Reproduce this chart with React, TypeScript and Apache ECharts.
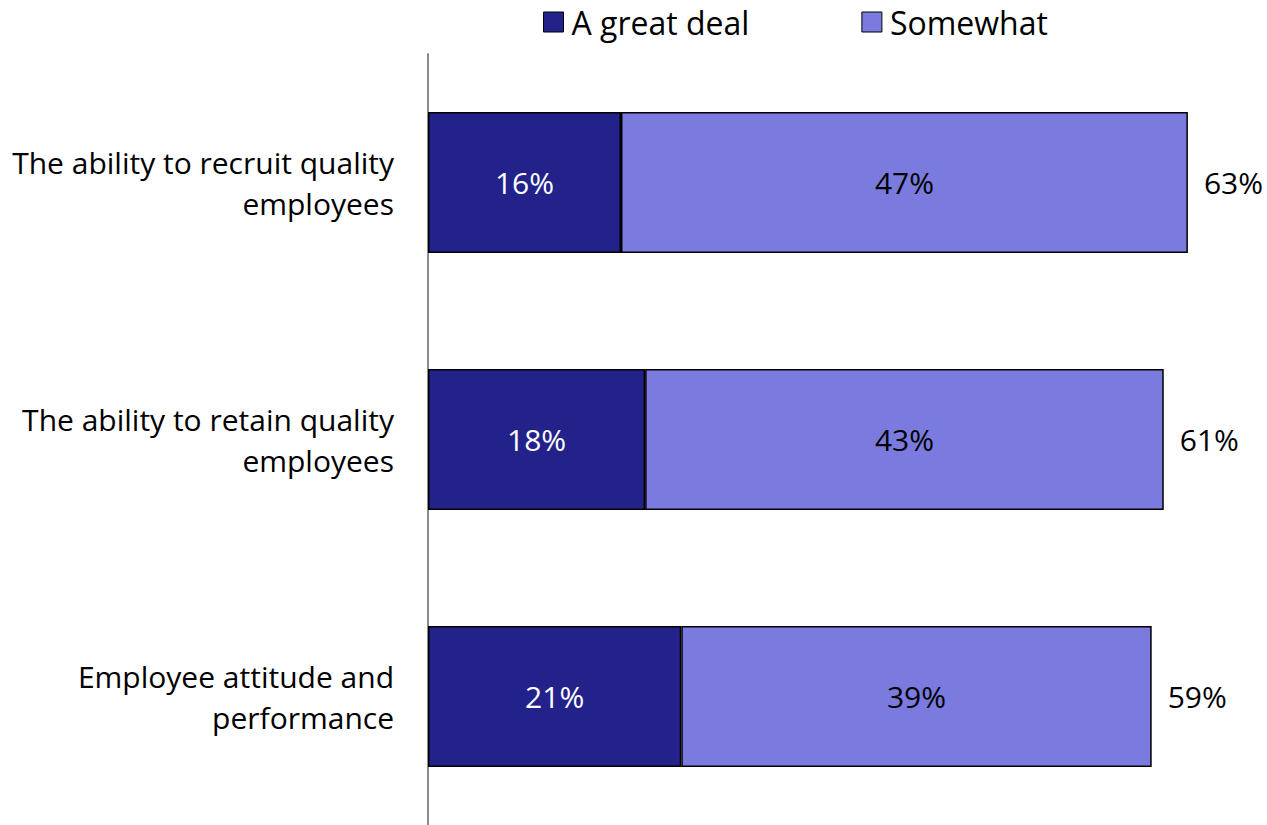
import React, { useEffect, useRef } from "react";
import * as echarts from "echarts";

const categories = [
  "The ability to recruit quality\nemployees",
  "The ability to retain quality\nemployees",
  "Employee attitude and\nperformance",
];
const greatDeal = [16, 18, 21];
const somewhat = [47, 43, 39];
const totals = [63, 61, 59];

const FONT = "Open Sans";

export default function App() {
  const ref = useRef<HTMLDivElement>(null);
  useEffect(() => {
    if (!ref.current) return;
    const chart = echarts.init(ref.current, undefined, { renderer: "svg" });
    chart.setOption({
      animation: false,
      backgroundColor: "#ffffff",
      textStyle: { fontFamily: FONT },
      legend: {
        top: 1,
        left: 538,
        itemWidth: 20,
        itemHeight: 20,
        itemGap: 112,
        icon: "rect",
        textStyle: { fontSize: 32, lineHeight: 32, color: "#000", fontFamily: FONT, padding: [0, 0, 0, 3] },
        data: [
          { name: "A great deal", itemStyle: { borderColor: "#000", borderWidth: 1 } },
          { name: "Somewhat", itemStyle: { borderColor: "#000", borderWidth: 1 } },
        ],
      },
      grid: { left: 428, right: 55, top: 54, bottom: 0, containLabel: false },
      xAxis: {
        type: "value",
        min: 0,
        max: 65,
        show: false,
      },
      yAxis: {
        type: "category",
        inverse: true,
        data: categories,
        axisLine: { show: true, lineStyle: { color: "#8c8c8c", width: 2 } },
        axisTick: { show: false },
        axisLabel: {
          margin: 34,
          fontSize: 30,
          lineHeight: 41,
          color: "#000",
          align: "right",
          fontFamily: FONT,
        },
      },
      series: [
        {
          name: "A great deal",
          type: "bar",
          stack: "t",
          data: greatDeal,
          barWidth: 141,
          itemStyle: { color: "#22228a", borderColor: "#000", borderWidth: 1.5 },
          label: {
            show: true,
            position: "inside",
            formatter: (p: any) => p.value + "%",
            color: "#fff",
            fontSize: 30,
            fontFamily: FONT,
          },
        },
        {
          name: "Somewhat",
          type: "bar",
          stack: "t",
          data: somewhat,
          barWidth: 141,
          itemStyle: { color: "#7b7bdf", borderColor: "#000", borderWidth: 1.5 },
          label: {
            show: true,
            position: "inside",
            formatter: (p: any) => p.value + "%",
            color: "#000",
            fontSize: 30,
            fontFamily: FONT,
          },
        },
        {
          name: "total",
          type: "bar",
          stack: "t",
          data: totals.map(() => 0),
          barWidth: 141,
          itemStyle: { color: "transparent" },
          label: {
            show: true,
            position: "right",
            distance: 16,
            formatter: (p: any) => totals[p.dataIndex] + "%",
            color: "#000",
            fontSize: 30,
            fontFamily: FONT,
          },
        },
      ],
    });
    return () => chart.dispose();
  }, []);
  return (
    <div
      ref={ref}
      style={{ position: "fixed", left: 0, top: 0, width: 1267, height: 825 }}
    />
  );
}
